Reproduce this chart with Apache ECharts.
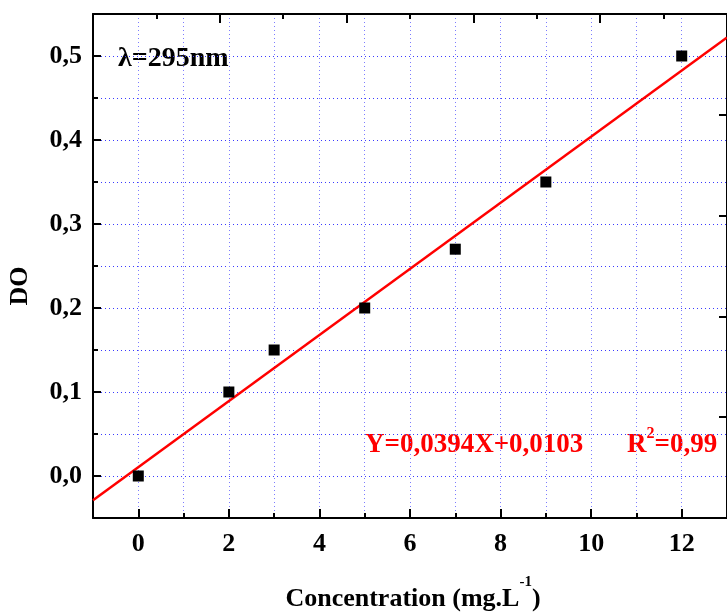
<!DOCTYPE html>
<html><head><meta charset="utf-8">
<script src="https://cdn.jsdelivr.net/npm/echarts@6/dist/echarts.min.js"></script>
<style>html,body{margin:0;padding:0;background:#fff}#c{width:727px;height:613px}</style>
</head><body><div id="c"></div>
<script>
const concX = [0, 2, 3, 5, 7, 9, 12];
const doValues = [0.00, 0.10, 0.15, 0.20, 0.27, 0.35, 0.50];
const fitX = [-1, 13];
const fitY = [-0.029, 0.522];
const xTickLabels = [0, 2, 4, 6, 8, 10, 12];
const yTickLabels = [0, 0.1, 0.2, 0.3, 0.4, 0.5];
const annLambda = 'λ=295nm';
const annEq = 'Y=0,0394X+0,0103';
const xTitle = 'Concentration (mg.L';
const yTitle = 'DO';

const FF = '"Liberation Serif","Times New Roman",serif';
const cv = document.createElement('canvas').getContext('2d');
function tw(t, size) { cv.font = 'bold ' + size + 'px ' + FF; return cv.measureText(t).width; }

const chart = echarts.init(document.getElementById('c'));
const gridLine = c => ({ show: true, lineStyle: { color: c, type: [1, 3], width: 1 } });
const axLine = { show: true, onZero: false, lineStyle: { color: '#000', width: 2 } };
const lbl = { color: '#000', fontFamily: FF, fontWeight: 'bold', fontSize: 26 };
const tickStyle = { color: '#000', width: 2 };

const xt1 = tw(xTitle, 26), xs = tw('-1', 15), xtotal = xt1 + xs + tw(')', 26);
const xStart = 413 - xtotal / 2;
const rW = tw('R', 27), r2W = tw('2', 16);

chart.setOption({
  animation: false,
  grid: [
    { left: 93, top: 14, width: 641, height: 504 },
    { left: 93, top: 14, width: 641, height: 504 }
  ],
  xAxis: [
    { gridIndex: 0, type: 'value', position: 'bottom', min: -1, max: 13, interval: 1,
      axisLine: axLine,
      axisTick: { show: true, inside: true, length: 5, lineStyle: tickStyle },
      axisLabel: Object.assign({ customValues: xTickLabels, margin: 13 }, lbl),
      splitLine: gridLine('#7c7cff') },
    { gridIndex: 0, type: 'value', position: 'top', min: 0, max: 10, interval: 2,
      axisLine: axLine,
      axisTick: { show: true, inside: true, length: 9, lineStyle: tickStyle },
      minorTick: { show: true, splitNumber: 2, length: 5, lineStyle: tickStyle },
      axisLabel: { show: false }, splitLine: { show: false } },
    { gridIndex: 1, type: 'value', position: 'bottom', min: -1, max: 13, interval: 1,
      axisLine: { show: false, onZero: false },
      axisTick: { show: true, inside: true, length: 9, customValues: xTickLabels, lineStyle: tickStyle },
      axisLabel: { show: false }, splitLine: { show: false } }
  ],
  yAxis: [
    { gridIndex: 0, type: 'value', position: 'left', min: -0.05, max: 0.55, interval: 0.05,
      axisLine: axLine,
      axisTick: { show: true, inside: true, length: 5, lineStyle: tickStyle },
      axisLabel: Object.assign({ customValues: yTickLabels, margin: 11,
        formatter: v => v.toFixed(1).replace('.', ',') }, lbl),
      splitLine: gridLine('#3a3aff') },
    { gridIndex: 0, type: 'value', position: 'right', min: 0, max: 5, interval: 1,
      axisLine: axLine,
      axisTick: { show: true, inside: true, length: 8, lineStyle: tickStyle },
      axisLabel: { show: false }, splitLine: { show: false } },
    { gridIndex: 1, type: 'value', position: 'left', min: -0.05, max: 0.55, interval: 0.05,
      axisLine: { show: false, onZero: false },
      axisTick: { show: true, inside: true, length: 8, customValues: yTickLabels, lineStyle: tickStyle },
      axisLabel: { show: false }, splitLine: { show: false } }
  ],
  series: [
    { type: 'line', xAxisIndex: 0, yAxisIndex: 0, showSymbol: false, silent: true,
      data: fitX.map((x, i) => [x, fitY[i]]),
      lineStyle: { color: '#ff0000', width: 2.5 }, z: 3 },
    { type: 'scatter', xAxisIndex: 0, yAxisIndex: 0, symbol: 'rect', symbolSize: 11,
      data: concX.map((x, i) => [x, doValues[i]]),
      itemStyle: { color: '#000', opacity: 1 }, z: 4 }
  ],
  graphic: [
    { type: 'text', x: 118, y: 59, style: { text: annLambda, fill: '#000', font: 'bold 28px ' + FF, align: 'left', verticalAlign: 'middle' } },
    { type: 'text', x: 365, y: 445, style: { text: annEq, fill: '#ff0000', font: 'bold 27px ' + FF, align: 'left', verticalAlign: 'middle' } },
    { type: 'text', x: 627, y: 445, style: { text: 'R', fill: '#ff0000', font: 'bold 27px ' + FF, align: 'left', verticalAlign: 'middle' } },
    { type: 'text', x: 627 + rW, y: 442, style: { text: '2', fill: '#ff0000', font: 'bold 16px ' + FF, align: 'left', verticalAlign: 'bottom' } },
    { type: 'text', x: 627 + rW + r2W, y: 445, style: { text: '=0,99', fill: '#ff0000', font: 'bold 27px ' + FF, align: 'left', verticalAlign: 'middle' } },
    { type: 'text', x: xStart, y: 599, style: { text: xTitle, fill: '#000', font: 'bold 26px ' + FF, align: 'left', verticalAlign: 'middle' } },
    { type: 'text', x: xStart + xt1, y: 590, style: { text: '-1', fill: '#000', font: 'bold 15px ' + FF, align: 'left', verticalAlign: 'bottom' } },
    { type: 'text', x: xStart + xt1 + xs, y: 599, style: { text: ')', fill: '#000', font: 'bold 26px ' + FF, align: 'left', verticalAlign: 'middle' } },
    { type: 'text', x: 20, y: 286, rotation: Math.PI / 2, style: { text: yTitle, fill: '#000', font: 'bold 26px ' + FF, align: 'center', verticalAlign: 'middle' } }
  ]
});
</script></body></html>
